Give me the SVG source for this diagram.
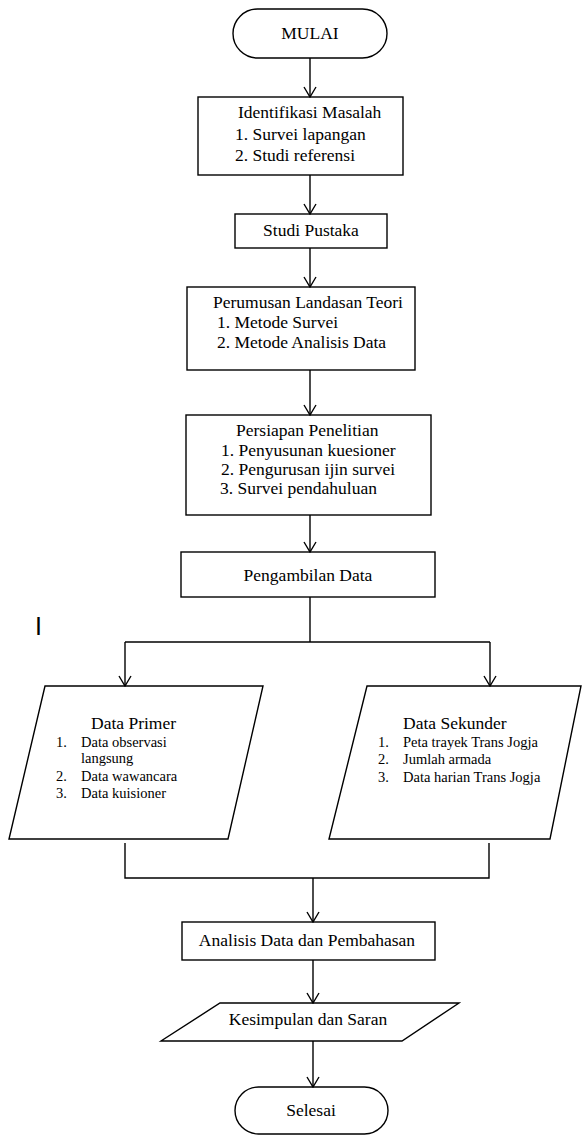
<svg xmlns="http://www.w3.org/2000/svg" width="582" height="1135" viewBox="0 0 582 1135">
<defs>
<style>
.s{fill:#fff;stroke:#000;stroke-width:1.4}
.c{fill:none;stroke:#000;stroke-width:1.4}
.t{font-family:"Liberation Serif","Times New Roman",serif;font-size:17.5px;fill:#000}
.m{text-anchor:middle}
.l{font-family:"Liberation Serif","Times New Roman",serif;font-size:14.5px;fill:#000}
</style>
<marker id="ah" viewBox="0 0 12 14" refX="11" refY="7" markerWidth="12" markerHeight="14" markerUnits="userSpaceOnUse" orient="auto">
<path d="M1,1 L11,7 L1,13" fill="none" stroke="#000" stroke-width="1.4"/>
</marker>
</defs>
<rect width="582" height="1135" fill="#fff"/>
<g id="mulai">
<rect class="s" x="233" y="9" width="154" height="49" rx="24.5"/>
<text class="t m" x="310" y="39">MULAI</text>
</g>
<g id="identifikasi">
<rect class="s" x="198" y="97" width="205" height="78"/>
<text class="t" x="238" y="118">Identifikasi Masalah</text>
<text class="t" x="235" y="140">1. Survei lapangan</text>
<text class="t" x="235" y="161">2. Studi referensi</text>
</g>
<g id="studi-pustaka">
<rect class="s" x="235" y="214" width="152" height="34"/>
<text class="t m" x="311" y="236">Studi Pustaka</text>
</g>
<g id="perumusan">
<rect class="s" x="187" y="287" width="228" height="83"/>
<text class="t" x="213" y="308">Perumusan Landasan Teori</text>
<text class="t" x="217" y="328">1. Metode Survei</text>
<text class="t" x="217" y="348">2. Metode Analisis Data</text>
</g>
<g id="persiapan">
<rect class="s" x="186" y="415" width="245" height="100"/>
<text class="t" x="236" y="436">Persiapan Penelitian</text>
<text class="t" x="221" y="456">1. Penyusunan kuesioner</text>
<text class="t" x="221" y="475">2. Pengurusan ijin survei</text>
<text class="t" x="220" y="494">3. Survei pendahuluan</text>
</g>
<g id="pengambilan">
<rect class="s" x="181" y="552" width="254" height="45"/>
<text class="t m" x="308" y="581">Pengambilan Data</text>
</g>
<g id="mark">
<text x="35" y="635" style="font-family:'Liberation Sans',Arial,sans-serif;font-size:25px;fill:#000">I</text>
</g>
<g id="data-primer">
<polygon class="s" points="45,686 263,686 228,839 9,839"/>
<text class="t" x="91" y="729">Data Primer</text>
<text class="l" x="56" y="747">1.</text>
<text class="l" x="81" y="747">Data observasi</text>
<text class="l" x="81" y="763">langsung</text>
<text class="l" x="56" y="781">2.</text>
<text class="l" x="81" y="781">Data wawancara</text>
<text class="l" x="56" y="798">3.</text>
<text class="l" x="81" y="798">Data kuisioner</text>
</g>
<g id="data-sekunder">
<polygon class="s" points="367,686 581,686 550,839 329,839"/>
<text class="t" x="403" y="729">Data Sekunder</text>
<text class="l" x="378" y="747">1.</text>
<text class="l" x="403" y="747">Peta trayek Trans Jogja</text>
<text class="l" x="378" y="764">2.</text>
<text class="l" x="403" y="764">Jumlah armada</text>
<text class="l" x="378" y="782">3.</text>
<text class="l" x="403" y="782">Data harian Trans Jogja</text>
</g>
<g id="analisis">
<rect class="s" x="182" y="922" width="253" height="38"/>
<text class="t m" x="307" y="946">Analisis Data dan Pembahasan</text>
</g>
<g id="kesimpulan">
<polygon class="s" points="220,1003 459,1003 402,1041 161,1041"/>
<text class="t m" x="308" y="1025">Kesimpulan dan Saran</text>
</g>
<g id="selesai">
<rect class="s" x="235" y="1087" width="153" height="47" rx="23.5"/>
<text class="t m" x="311" y="1116">Selesai</text>
</g>
<g id="connectors">
<path class="c" d="M310,58 V97" marker-end="url(#ah)"/>
<path class="c" d="M310,175 V214" marker-end="url(#ah)"/>
<path class="c" d="M310,248 V287" marker-end="url(#ah)"/>
<path class="c" d="M310,370 V415" marker-end="url(#ah)"/>
<path class="c" d="M310,515 V552" marker-end="url(#ah)"/>
<path class="c" d="M310,597 V642"/>
<path class="c" d="M125,642 H490"/>
<path class="c" d="M125,642 V686" marker-end="url(#ah)"/>
<path class="c" d="M490,642 V686" marker-end="url(#ah)"/>
<path class="c" d="M125,843 V878 H489 V843"/>
<path class="c" d="M313,878 V922" marker-end="url(#ah)"/>
<path class="c" d="M313,960 V1003" marker-end="url(#ah)"/>
<path class="c" d="M313,1041 V1087" marker-end="url(#ah)"/>
</g>
</svg>
